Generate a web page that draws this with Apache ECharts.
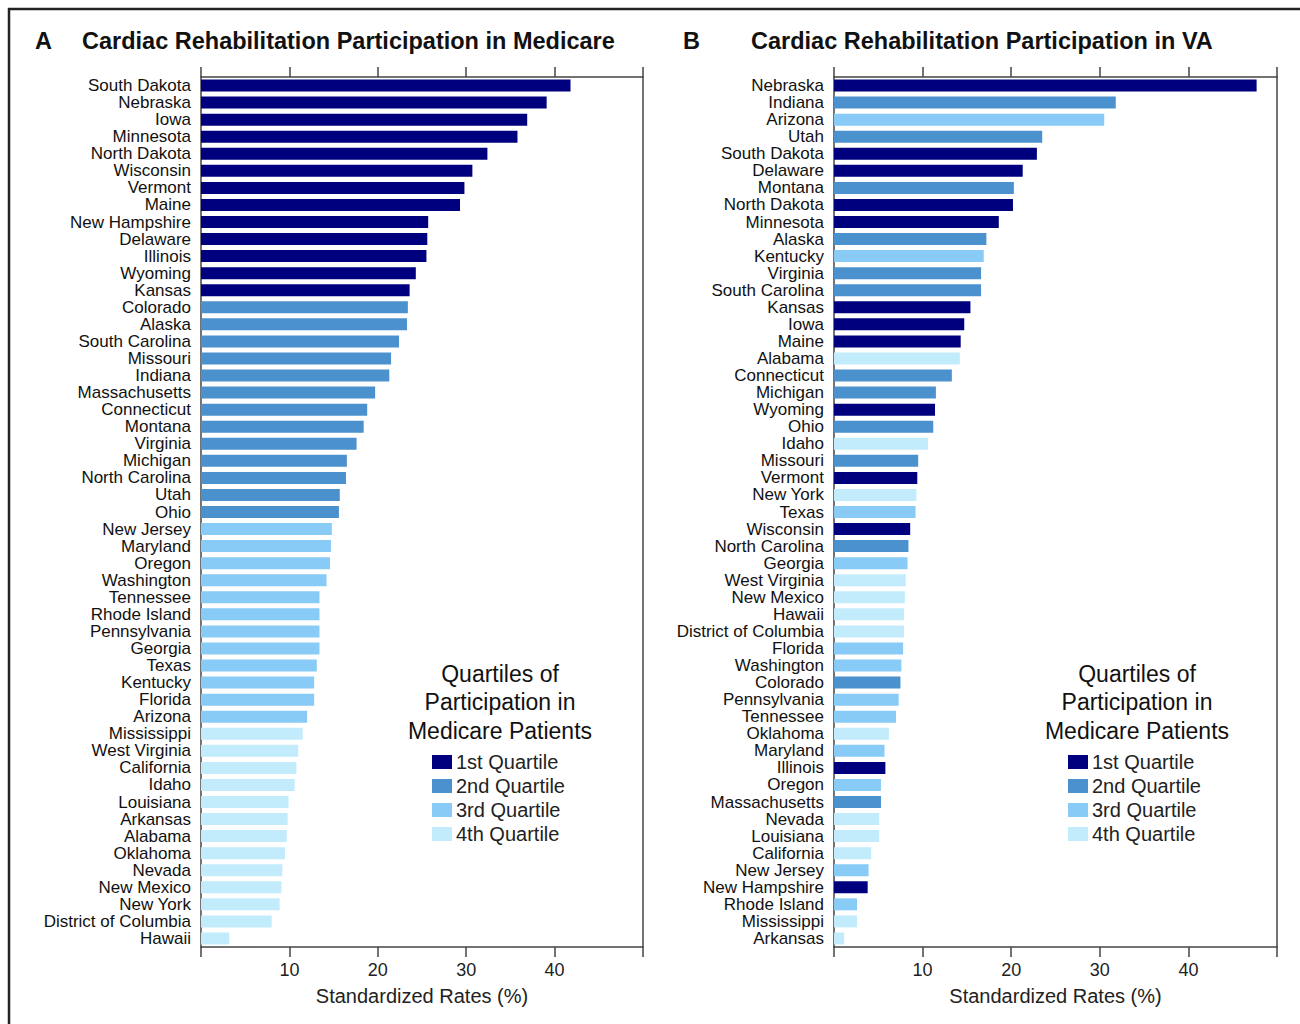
<!DOCTYPE html>
<html>
<head>
<meta charset="utf-8">
<script src="https://cdn.jsdelivr.net/npm/echarts@6/dist/echarts.min.js"></script>
<style>
  html, body { margin: 0; padding: 0; background: #fff; }
  #app { width: 1300px; height: 1024px; }
</style>
</head>
<body>
<div id="app"></div>
<script>
// Panel A: Medicare, ranked
const medStates = ['South Dakota', 'Nebraska', 'Iowa', 'Minnesota', 'North Dakota', 'Wisconsin', 'Vermont', 'Maine',
  'New Hampshire', 'Delaware', 'Illinois', 'Wyoming', 'Kansas', 'Colorado', 'Alaska', 'South Carolina', 'Missouri',
  'Indiana', 'Massachusetts', 'Connecticut', 'Montana', 'Virginia', 'Michigan', 'North Carolina', 'Utah', 'Ohio',
  'New Jersey', 'Maryland', 'Oregon', 'Washington', 'Tennessee', 'Rhode Island', 'Pennsylvania', 'Georgia', 'Texas',
  'Kentucky', 'Florida', 'Arizona', 'Mississippi', 'West Virginia', 'California', 'Idaho', 'Louisiana', 'Arkansas',
  'Alabama', 'Oklahoma', 'Nevada', 'New Mexico', 'New York', 'District of Columbia', 'Hawaii']
const medValues = [41.8, 39.1, 36.9, 35.8, 32.4, 30.7, 29.8, 29.3,
  25.7, 25.6, 25.5, 24.3, 23.6, 23.4, 23.3, 22.4, 21.5,
  21.3, 19.7, 18.8, 18.4, 17.6, 16.5, 16.4, 15.7, 15.6,
  14.8, 14.7, 14.6, 14.2, 13.4, 13.4, 13.4, 13.4, 13.1,
  12.8, 12.8, 12.0, 11.5, 11.0, 10.8, 10.6, 9.9, 9.8,
  9.7, 9.5, 9.2, 9.1, 8.9, 8.0, 3.2]
const medQuartile = [1, 1, 1, 1, 1, 1, 1, 1, 1, 1, 1, 1, 1,
  2, 2, 2, 2, 2, 2, 2, 2, 2, 2, 2, 2, 2,
  3, 3, 3, 3, 3, 3, 3, 3, 3, 3, 3, 3,
  4, 4, 4, 4, 4, 4, 4, 4, 4, 4, 4, 4, 4]

// Panel B: VA, ranked
const vaStates = ['Nebraska', 'Indiana', 'Arizona', 'Utah', 'South Dakota', 'Delaware', 'Montana', 'North Dakota',
  'Minnesota', 'Alaska', 'Kentucky', 'Virginia', 'South Carolina', 'Kansas', 'Iowa', 'Maine', 'Alabama',
  'Connecticut', 'Michigan', 'Wyoming', 'Ohio', 'Idaho', 'Missouri', 'Vermont', 'New York', 'Texas', 'Wisconsin',
  'North Carolina', 'Georgia', 'West Virginia', 'New Mexico', 'Hawaii', 'District of Columbia', 'Florida',
  'Washington', 'Colorado', 'Pennsylvania', 'Tennessee', 'Oklahoma', 'Maryland', 'Illinois', 'Oregon',
  'Massachusetts', 'Nevada', 'Louisiana', 'California', 'New Jersey', 'New Hampshire', 'Rhode Island',
  'Mississippi', 'Arkansas']
const vaValues = [47.7, 31.8, 30.5, 23.5, 22.9, 21.3, 20.3, 20.2,
  18.6, 17.2, 16.9, 16.6, 16.6, 15.4, 14.7, 14.3, 14.2,
  13.3, 11.5, 11.4, 11.2, 10.6, 9.5, 9.4, 9.3, 9.2, 8.6,
  8.4, 8.3, 8.1, 8.0, 7.9, 7.9, 7.8,
  7.6, 7.5, 7.3, 7.0, 6.2, 5.7, 5.8, 5.3,
  5.3, 5.1, 5.1, 4.2, 3.9, 3.8, 2.6,
  2.6, 1.15]

const quartileNames = ['1st Quartile', '2nd Quartile', '3rd Quartile', '4th Quartile']
const quartileColors = ['#00007f', '#4b91cd', '#87cbf6', '#c2ecfc']

const FONT = '"Liberation Sans", Arial, Helvetica, sans-serif'
const AXIS_COLOR = '#444'

const quartileOf = {}
medStates.forEach((s, i) => { quartileOf[s] = medQuartile[i] })

function panelSeries (states, values, idx) {
  return quartileNames.map((name, q) => ({
    type: 'bar',
    name: name,
    xAxisIndex: idx * 2,
    yAxisIndex: idx * 2,
    barWidth: 12,
    barGap: '-100%',
    itemStyle: { color: quartileColors[q] },
    emphasis: { disabled: true },
    data: states.map((s, i) => (quartileOf[s] === q + 1 ? values[i] : '-'))
  }))
}

function xAxes (g) {
  const common = {
    gridIndex: g,
    type: 'value',
    min: 0,
    max: 50,
    interval: 10,
    splitLine: { show: false },
    axisLine: { show: true, onZero: false, lineStyle: { color: AXIS_COLOR, width: 1.5 } },
    axisTick: { show: true, length: 10, lineStyle: { color: AXIS_COLOR, width: 1.5 } }
  }
  return [
    Object.assign({}, common, {
      position: 'bottom',
      name: 'Standardized Rates (%)',
      nameLocation: 'middle',
      nameGap: 39,
      nameTextStyle: { fontSize: 20, color: '#222', fontFamily: FONT },
      axisLabel: {
        fontSize: 18, color: '#222', fontFamily: FONT, margin: 14,
        formatter: v => (v === 0 || v === 50 ? '' : String(v))
      }
    }),
    Object.assign({}, common, { position: 'top', axisLabel: { show: false } })
  ]
}

function yAxes (g, states) {
  return [
    {
      gridIndex: g,
      type: 'category',
      data: states,
      inverse: true,
      position: 'left',
      axisLine: { show: true, onZero: false, lineStyle: { color: AXIS_COLOR, width: 1.5 } },
      axisTick: { show: false },
      axisLabel: { fontSize: 17, color: '#111', fontFamily: FONT, margin: 10, interval: 0 }
    },
    {
      gridIndex: g,
      type: 'category',
      data: states,
      inverse: true,
      position: 'right',
      axisLine: { show: true, onZero: false, lineStyle: { color: AXIS_COLOR, width: 1.5 } },
      axisTick: { show: false },
      axisLabel: { show: false }
    }
  ]
}

function legendBlock (left) {
  return {
    orient: 'vertical',
    left: left,
    top: 752,
    padding: 0,
    icon: 'rect',
    itemWidth: 20,
    itemHeight: 14,
    itemGap: 4,
    selectedMode: false,
    data: quartileNames,
    textStyle: { fontSize: 20, color: '#222', fontFamily: FONT, padding: [0, 0, 0, -1] }
  }
}

function headText (x, y, text, size, weight, align) {
  return {
    type: 'text',
    x: x,
    y: y,
    silent: true,
    style: {
      text: text,
      font: weight + ' ' + size + 'px ' + FONT,
      fill: '#111',
      align: align || 'left',
      verticalAlign: 'middle',
      lineHeight: 28.5
    }
  }
}

const chart = echarts.init(document.getElementById('app'), null, { renderer: 'svg' })

chart.setOption({
  animation: false,
  backgroundColor: '#fff',
  grid: [
    { left: 201, right: 657, top: 77, bottom: 77 },
    { left: 834, right: 23, top: 77, bottom: 77 }
  ],
  xAxis: xAxes(0).concat(xAxes(1)),
  yAxis: yAxes(0, medStates).concat(yAxes(1, vaStates)),
  legend: [legendBlock(432), legendBlock(1068)],
  series: panelSeries(medStates, medValues, 0).concat(panelSeries(vaStates, vaValues, 1)),
  graphic: [
    {
      type: 'rect',
      silent: true,
      shape: { x: 9, y: 9, width: 1400, height: 1200 },
      style: { fill: 'none', stroke: '#222', lineWidth: 2.5 }
    },
    headText(35, 41, 'A', 23.5, 'bold'),
    headText(82, 41, 'Cardiac Rehabilitation Participation in Medicare', 23.5, 'bold'),
    headText(683, 41, 'B', 23.5, 'bold'),
    headText(751, 41, 'Cardiac Rehabilitation Participation in VA', 23.5, 'bold'),
    headText(500, 702, 'Quartiles of\nParticipation in\nMedicare Patients', 23, 'normal', 'center'),
    headText(1137, 702, 'Quartiles of\nParticipation in\nMedicare Patients', 23, 'normal', 'center')
  ]
})
</script>
</body>
</html>
